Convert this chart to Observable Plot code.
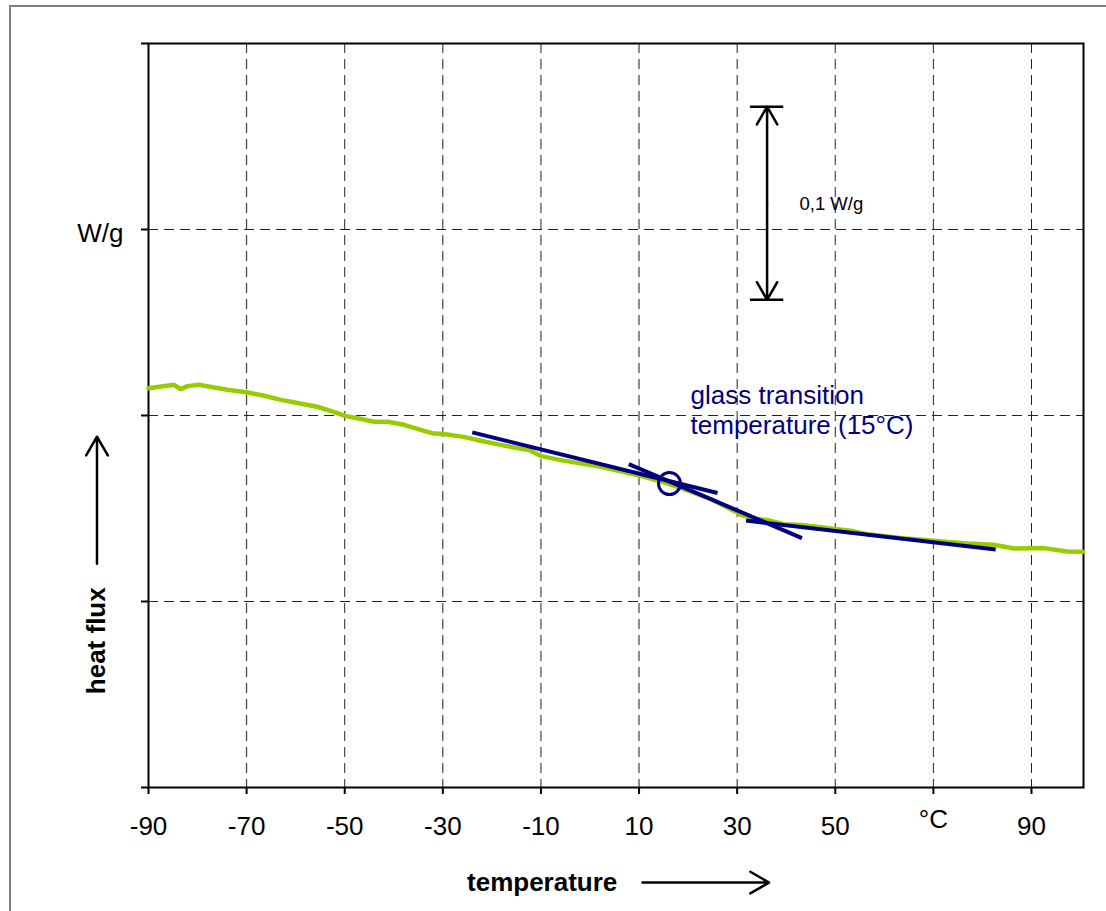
<!DOCTYPE html>
<html>
<head>
<meta charset="utf-8">
<script src="https://cdn.jsdelivr.net/npm/d3@7"></script>
<script src="https://cdn.jsdelivr.net/npm/@observablehq/plot@0.6"></script>
<style>
  html, body { margin: 0; padding: 0; background: #fff; }
  #wrap { position: relative; width: 1106px; height: 911px; overflow: hidden; }
  #border { position: absolute; left: 9px; top: 5px; width: 1200px; height: 1000px;
            border-left: 2px solid #808080; border-top: 2px solid #808080; pointer-events: none; }
  #chart { position: absolute; left: 0; top: 0; }
</style>
</head>
<body>
<div id="wrap"><div id="chart"></div><div id="border"></div></div>
<script>
// ---- data ----
const temps = [-90.0, -84.8, -83.4, -82.1, -79.7, -76.6, -73.9, -69.8, -66.4, -63.0, -59.6, -55.6, -52.9, -49.9,
  -46.7, -44.0, -41.3, -37.9, -34.5, -31.8, -29.8, -25.7, -22.3, -18.9, -15.5, -12.4, -10.1, -6.0, 2.2, 10.3,
  15.1, 19.2, 22.6, 24.6, 30.0, 30.7, 34.1, 36.1, 39.5, 42.9, 46.3, 50.4, 53.1, 56.5, 63.3, 70.1, 76.9, 82.3,
  86.4, 92.5, 97.3, 100.5];
const heatFlux = [0.2147, 0.2165, 0.2142, 0.2158, 0.2165, 0.2151, 0.2138, 0.2124, 0.2106, 0.2084, 0.2067, 0.2047,
  0.2025, 0.1998, 0.1981, 0.1966, 0.1966, 0.1950, 0.1923, 0.1903, 0.1900, 0.1885, 0.1864, 0.1846, 0.1828, 0.1814,
  0.1783, 0.1760, 0.1724, 0.1676, 0.1640, 0.1604, 0.1571, 0.1551, 0.1478, 0.1466, 0.1443, 0.1438, 0.1416, 0.1411,
  0.1402, 0.1389, 0.1380, 0.1362, 0.1341, 0.1326, 0.1312, 0.1305, 0.1285, 0.1287, 0.1269, 0.1267];

const xTicks = [-90, -70, -50, -30, -10, 10, 30, 50, 70, 90];
const xTickLabels = ["-90", "-70", "-50", "-30", "-10", "10", "30", "50", "", "90"];
const xGrid = [-70, -50, -30, -10, 10, 30, 50, 70, 90];
const unitTick = [70];
const unitLabel = ["°C"];
const yTicks = [0, 0.1, 0.2, 0.3, 0.4];
const yTickLabels = ["", "", "", "W/g", ""];
const yGrid = [0.1, 0.2, 0.3];

// tangent lines (onset construction)
const tanStartT = [-24.0, 7.9, 31.8];
const tanStartV = [0.1909, 0.1739, 0.1435];
const tanEndT = [26.0, 43.2, 82.7];
const tanEndV = [0.1583, 0.1341, 0.1280];
// glass transition point
const tgT = [16.2];
const tgV = [0.1634];
const tgLabel = ["glass transition\ntemperature (15°C)"];
const tgLabelPos = {t: 20.5, v: 0.1902};

// 0,1 W/g scale bar
const barT = 36.1, barTop = 0.366, barBottom = 0.2622, barHalfW = 3.4;
const barLabel = ["0,1 W/g"];
const barLabelPos = {t: 42.7, v: 0.3104};

// axis titles with arrows
const xTitle = ["temperature"], xTitlePos = {t: -9.75, v: -0.0555};
const xArrow = {t1: 10.7, t2: 36.5, v: -0.0511};
const yTitle = ["heat flux"], yTitlePos = {t: -100.6, v: 0.0789};
const yArrow = {t: -100.5, v1: 0.1203, v2: 0.1886};

// ---- build tables ----
const curve = temps.map((t, i) => ({t, v: heatFlux[i]}));
const tangents = tanStartT.map((t, i) => ({t1: t, v1: tanStartV[i], t2: tanEndT[i], v2: tanEndV[i]}));
const tg = tgT.map((t, i) => ({t, v: tgV[i]}));
const barMid = (barTop + barBottom) / 2;
const barArrows = [
  {t1: barT, v1: barMid, t2: barT, v2: barTop},
  {t1: barT, v1: barMid, t2: barT, v2: barBottom}
];
const barCaps = [
  {v: barTop, t1: barT - barHalfW, t2: barT + barHalfW},
  {v: barBottom, t1: barT - barHalfW, t2: barT + barHalfW}
];
const navy = "#000080";
const font = "'Liberation Sans', Arial, Helvetica, sans-serif";

const chart = Plot.plot({
  width: 1106,
  height: 911,
  marginLeft: 148,
  marginRight: 23,
  marginTop: 43,
  marginBottom: 124,
  style: {fontFamily: font, fontSize: "26px", color: "black", background: "transparent", overflow: "visible"},
  x: {domain: [-90, 100.6], label: null},
  y: {domain: [0, 0.4], label: null},
  marks: [
    Plot.gridX(xGrid, {stroke: "#222", strokeOpacity: 1, strokeWidth: 1, strokeDasharray: "10,6"}),
    Plot.gridY(yGrid, {stroke: "#222", strokeOpacity: 1, strokeWidth: 1, strokeDasharray: "10,6"}),
    Plot.axisX({ticks: xTicks, tickSize: 7, tickPadding: 22, strokeWidth: 2, label: null,
      tickFormat: (d) => xTickLabels[xTicks.indexOf(d)], fontSize: 26}),
    Plot.axisY({ticks: yTicks, tickSize: 7, strokeWidth: 2, label: null, tickFormat: () => ""}),
    Plot.axisY({ticks: yTicks, tickSize: 0, tickPadding: 25, label: null, dy: 4,
      tickFormat: (d) => yTickLabels[yTicks.findIndex(y => Math.abs(y - d) < 1e-9)], fontSize: 26}),
    Plot.text(unitLabel, {x: unitTick, frameAnchor: "bottom", lineAnchor: "bottom", dy: 40, fontSize: 26}),
    Plot.frame({stroke: "black", strokeWidth: 2}),
    Plot.line(curve, {x: "t", y: "v", stroke: "#99cc00", strokeWidth: 4.5, strokeLinejoin: "round"}),
    Plot.link(tangents, {x1: "t1", y1: "v1", x2: "t2", y2: "v2", stroke: navy, strokeWidth: 4}),
    Plot.dot(tg, {x: "t", y: "v", r: 11, stroke: navy, strokeWidth: 3, fill: "none"}),
    Plot.text(tgLabel, {x: () => tgLabelPos.t, y: () => tgLabelPos.v, textAnchor: "start", lineAnchor: "bottom",
      lineHeight: 1.154, fill: navy, fontSize: 26}),
    Plot.arrow(barArrows, {x1: "t1", y1: "v1", x2: "t2", y2: "v2", stroke: "black", strokeWidth: 2.5,
      headLength: 12.2, headAngle: 60}),
    Plot.ruleY(barCaps, {y: "v", x1: "t1", x2: "t2", stroke: "black", strokeWidth: 2.5}),
    Plot.text(barLabel, {x: () => barLabelPos.t, y: () => barLabelPos.v, textAnchor: "start", lineAnchor: "bottom",
      fontSize: 18.5}),
    Plot.text(xTitle, {x: () => xTitlePos.t, y: () => xTitlePos.v, textAnchor: "middle", lineAnchor: "bottom",
      fontWeight: "bold", fontSize: 26}),
    Plot.arrow([xArrow], {x1: "t1", x2: "t2", y1: "v", y2: "v", stroke: "black", strokeWidth: 2.5,
      headLength: 13, headAngle: 60}),
    Plot.text(yTitle, {x: () => yTitlePos.t, y: () => yTitlePos.v, rotate: -90, textAnchor: "middle",
      lineAnchor: "middle", fontWeight: "bold", fontSize: 26}),
    Plot.arrow([yArrow], {x1: "t", x2: "t", y1: "v1", y2: "v2", stroke: "black", strokeWidth: 2.5,
      headLength: 13, headAngle: 60})
  ]
});
document.getElementById("chart").appendChild(chart);
</script>
</body>
</html>
